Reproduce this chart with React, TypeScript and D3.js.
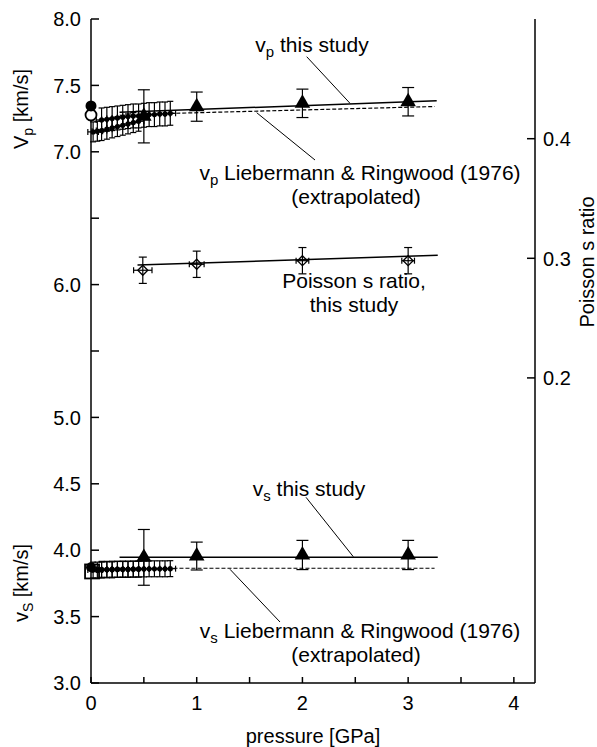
import React from "react";
import * as d3 from "d3";

// ---------- data ----------
const xTicks = [0, 0.5, 1, 1.5, 2, 2.5, 3, 3.5, 4];
const xTickLabels = ["0", "1", "2", "3", "4"];
const yTicks = [3, 3.5, 4, 4.5, 5, 5.5, 6, 6.5, 7, 7.5, 8];
const yTickLabels = ["3.0", "3.5", "4.0", "4.5", "5.0", "", "6.0", "", "7.0", "7.5", "8.0"];
const rTicks = [0.2, 0.3, 0.4];
const rTickLabels = ["0.2", "0.3", "0.4"];

// this study (triangles)
const studyP = [0.5, 1, 2, 3];
const vpStudy = [7.267, 7.34, 7.365, 7.377];
const vpStudyErr = [0.2, 0.11, 0.107, 0.107];
const vsStudy = [3.946, 3.956, 3.964, 3.964];
const vsStudyErr = [0.21, 0.105, 0.11, 0.11];

// Poisson's ratio
const poissonP = [0.49, 1.0, 2.0, 3.0];
const poissonV = [0.29, 0.295, 0.298, 0.298];
const poissonErr = [0.011, 0.011, 0.011, 0.011];
const poissonPErr = [0.087, 0.07, 0.06, 0.06];

// fit lines
const vpFitP = [0.27, 3.27];
const vpFitV = [7.298, 7.384];
const vpLRP = [0.75, 3.25];
const vpLRV = [7.289, 7.341];
const vsFitP = [0.27, 3.28];
const vsFitV = [3.946, 3.946];
const vsLRP = [0.78, 3.25];
const vsLRV = [3.864, 3.864];
const poissonFitP = [0.44, 3.28];
const poissonFitV = [0.2943, 0.3025];

// low-pressure literature data
const vpLow1P = [0.02, 0.06, 0.1, 0.15, 0.2, 0.25, 0.3, 0.35, 0.4, 0.45];
const vpLow1V = [7.15, 7.155, 7.16, 7.17, 7.18, 7.19, 7.2, 7.21, 7.22, 7.23];
const vpLow2P = [0.1, 0.15, 0.2, 0.25, 0.3, 0.35, 0.4, 0.45, 0.5, 0.55, 0.6, 0.65, 0.7, 0.75];
const vpLow2V = [7.24, 7.245, 7.25, 7.255, 7.26, 7.265, 7.27, 7.27, 7.275, 7.28, 7.28, 7.285, 7.285, 7.29];
const vsLow1P = [0.02, 0.06, 0.1, 0.15, 0.2, 0.25, 0.3, 0.35, 0.4, 0.45];
const vsLow1V = [3.85, 3.85, 3.85, 3.852, 3.852, 3.855, 3.855, 3.855, 3.857, 3.857];
const vsLow2P = [0.1, 0.15, 0.2, 0.25, 0.3, 0.35, 0.4, 0.45, 0.5, 0.55, 0.6, 0.65, 0.7, 0.75];
const vsLow2V = [3.856, 3.856, 3.857, 3.857, 3.858, 3.858, 3.858, 3.859, 3.859, 3.86, 3.86, 3.86, 3.86, 3.861];
const vpFilledCircle = { p: 0.0, v: 7.345 };
const vpOpenCircle = { p: 0.0, v: 7.277 };
const vsFilledCircle = { p: 0.0, v: 3.872 };
const vsOpenSquare = { p: 0.01, v: 3.84 };

// ---------- layout ----------
const W = 597;
const H = 747;
const x = d3.scaleLinear().domain([0, 4.2]).range([91, 535]);
const y = d3.scaleLinear().domain([3, 8]).range([683, 19]);
const yR = d3.scaleLinear().domain([0.3, 0.4]).range([258.3, 138.7]);

const FONT = "'Liberation Sans', Arial, Helvetica, sans-serif";
const line = d3.line<[number, number]>();

function ErrV({ px, py0, py1, cap }: { px: number; py0: number; py1: number; cap: number }) {
  return (
    <g stroke="#000" strokeWidth={1.2}>
      <line x1={px} x2={px} y1={py0} y2={py1} />
      <line x1={px - cap} x2={px + cap} y1={py0} y2={py0} />
      <line x1={px - cap} x2={px + cap} y1={py1} y2={py1} />
    </g>
  );
}
function ErrH({ py, px0, px1, cap }: { py: number; px0: number; px1: number; cap: number }) {
  return (
    <g stroke="#000" strokeWidth={1.2}>
      <line x1={px0} x2={px1} y1={py} y2={py} />
      <line x1={px0} x2={px0} y1={py - cap} y2={py + cap} />
      <line x1={px1} x2={px1} y1={py - cap} y2={py + cap} />
    </g>
  );
}

function LowSeries({ ps, vs, err, perr }: { ps: number[]; vs: number[]; err: number; perr: number }) {
  return (
    <g>
      {ps.map((p, i) => (
        <g key={i}>
          <ErrV px={x(p)} py0={y(vs[i] + err)} py1={y(vs[i] - err)} cap={3} />
          <ErrH py={y(vs[i])} px0={x(p - perr)} px1={x(p + perr)} cap={3} />
          <circle cx={x(p)} cy={y(vs[i])} r={2.6} fill="#000" />
        </g>
      ))}
    </g>
  );
}

const tri = d3.symbol().type(d3.symbolTriangle).size(105)();

export default function App() {
  const vpFit = line(vpFitP.map((p, i) => [x(p), y(vpFitV[i])]));
  const vpLR = line(vpLRP.map((p, i) => [x(p), y(vpLRV[i])]));
  const vsFit = line(vsFitP.map((p, i) => [x(p), y(vsFitV[i])]));
  const vsLR = line(vsLRP.map((p, i) => [x(p), y(vsLRV[i])]));
  const pFit = line(poissonFitP.map((p, i) => [x(p), yR(poissonFitV[i])]));
  const x0 = x.range()[0];
  const x1 = x.range()[1];
  const yb = y.range()[0];
  const yt = y.range()[1];
  return (
    <svg width={W} height={H} style={{ position: "absolute", left: 0, top: 0 }} fontFamily={FONT}>
      <rect width={W} height={H} fill="#fff" />
      {/* frame */}
      <g stroke="#000" strokeWidth={1.5} fill="none">
        <line x1={x0} x2={x0} y1={yt} y2={yb} />
        <line x1={x1} x2={x1} y1={yt} y2={yb} />
        <line x1={x0} x2={x1} y1={yb} y2={yb} />
      </g>
      {/* left ticks */}
      {yTicks.map((t, i) => (
        <g key={"yl" + i}>
          <line x1={x0} x2={x0 + 8} y1={y(t)} y2={y(t)} stroke="#000" strokeWidth={1.5} />
          <text x={x0 - 10} y={y(t)} dy="0.36em" textAnchor="end" fontSize={20}>
            {yTickLabels[i]}
          </text>
        </g>
      ))}
      {/* right ticks */}
      {rTicks.map((t, i) => (
        <g key={"yr" + i}>
          <line x1={x1 - 8} x2={x1} y1={yR(t)} y2={yR(t)} stroke="#000" strokeWidth={1.5} />
          <text x={x1 + 8} y={yR(t)} dy="0.36em" textAnchor="start" fontSize={20}>
            {rTickLabels[i]}
          </text>
        </g>
      ))}
      {/* x ticks */}
      {xTicks.map((t, i) => (
        <line key={"xt" + i} x1={x(t)} x2={x(t)} y1={yb} y2={yb - 6} stroke="#000" strokeWidth={1.5} />
      ))}
      {xTickLabels.map((l, i) => (
        <text key={"xl" + i} x={x(+l)} y={yb + 27} textAnchor="middle" fontSize={20}>
          {l}
        </text>
      ))}
      <text x={(x0 + x1) / 2} y={743} textAnchor="middle" fontSize={20}>
        pressure [GPa]
      </text>
      {/* axis titles */}
      <text transform={`translate(28,109) rotate(-90)`} textAnchor="middle" fontSize={20}>
        V<tspan dy={5} fontSize={14}>p</tspan>
        <tspan dy={-5}> [km/s]</tspan>
      </text>
      <text transform={`translate(28,583) rotate(-90)`} textAnchor="middle" fontSize={20}>
        v<tspan dy={5} fontSize={14}>S</tspan>
        <tspan dy={-5}> [km/s]</tspan>
      </text>
      <text transform={`translate(594,262) rotate(-90)`} textAnchor="middle" fontSize={20}>
        Poisson s ratio
      </text>

      {/* fit lines */}
      <g fill="none" stroke="#000">
        <path d={vpFit || ""} strokeWidth={1.5} />
        <path d={vpLR || ""} strokeWidth={1.2} strokeDasharray="4,2" />
        <path d={vsFit || ""} strokeWidth={1.5} />
        <path d={vsLR || ""} strokeWidth={1.2} strokeDasharray="4,2" />
        <path d={pFit || ""} strokeWidth={1.5} />
      </g>

      {/* low pressure data */}
      <LowSeries ps={vpLow1P} vs={vpLow1V} err={0.075} perr={0.05} />
      <LowSeries ps={vpLow2P} vs={vpLow2V} err={0.09} perr={0.05} />
      <LowSeries ps={vsLow1P} vs={vsLow1V} err={0.06} perr={0.05} />
      <LowSeries ps={vsLow2P} vs={vsLow2V} err={0.06} perr={0.05} />
      <circle cx={x(vpOpenCircle.p)} cy={y(vpOpenCircle.v)} r={5.5} fill="#fff" stroke="#000" strokeWidth={1.8} />
      <circle cx={x(vpFilledCircle.p)} cy={y(vpFilledCircle.v)} r={5.5} fill="#000" />
      <rect
        x={x(vsOpenSquare.p) - 7}
        y={y(vsOpenSquare.v) - 7}
        width={14}
        height={14}
        fill="none"
        stroke="#000"
        strokeWidth={1.8}
      />
      <circle cx={x(vsFilledCircle.p)} cy={y(vsFilledCircle.v)} r={5} fill="#000" />

      {/* this study: triangles */}
      {studyP.map((p, i) => (
        <g key={"vp" + i}>
          <ErrV px={x(p)} py0={y(vpStudy[i] + vpStudyErr[i])} py1={y(vpStudy[i] - vpStudyErr[i])} cap={6} />
          <path d={tri || ""} transform={`translate(${x(p)},${y(vpStudy[i])})`} fill="#000" />
        </g>
      ))}
      {studyP.map((p, i) => (
        <g key={"vs" + i}>
          <ErrV px={x(p)} py0={y(vsStudy[i] + vsStudyErr[i])} py1={y(vsStudy[i] - vsStudyErr[i])} cap={6} />
          <path d={tri || ""} transform={`translate(${x(p)},${y(vsStudy[i])})`} fill="#000" />
        </g>
      ))}
      {/* Poisson */}
      {poissonP.map((p, i) => (
        <g key={"pr" + i}>
          <ErrV px={x(p)} py0={yR(poissonV[i] + poissonErr[i])} py1={yR(poissonV[i] - poissonErr[i])} cap={4} />
          <ErrH py={yR(poissonV[i])} px0={x(p - poissonPErr[i])} px1={x(p + poissonPErr[i])} cap={3} />
          <path
            d={`M${x(p)},${yR(poissonV[i]) - 5}L${x(p) + 5},${yR(poissonV[i])}L${x(p)},${yR(poissonV[i]) + 5}L${x(p) - 5},${yR(poissonV[i])}Z`}
            fill="none"
            stroke="#000"
            strokeWidth={1.3}
          />
        </g>
      ))}

      {/* annotations */}
      <g stroke="#000" strokeWidth={1}>
        <line x1={306.7} y1={56.7} x2={350} y2={103.3} />
        <line x1={256.7} y1={112.7} x2={315} y2={160} />
        <line x1={306} y1={497.3} x2={353.3} y2={556.7} />
        <line x1={230} y1={569.3} x2={280} y2={622} />
      </g>
      <g fontSize={21} textAnchor="middle">
        <text x={312} y={52}>
          v<tspan dy={5} fontSize={15}>p</tspan>
          <tspan dy={-5}> this study</tspan>
        </text>
        <text x={360} y={180}>
          v<tspan dy={5} fontSize={15}>p</tspan>
          <tspan dy={-5}> Liebermann &amp; Ringwood (1976)</tspan>
        </text>
        <text x={356} y={204}>(extrapolated)</text>
        <text x={354} y={288}>Poisson s ratio,</text>
        <text x={354} y={312}>this study</text>
        <text x={309} y={496}>
          v<tspan dy={5} fontSize={15}>s</tspan>
          <tspan dy={-5}> this study</tspan>
        </text>
        <text x={360} y={638}>
          v<tspan dy={5} fontSize={15}>s</tspan>
          <tspan dy={-5}> Liebermann &amp; Ringwood (1976)</tspan>
        </text>
        <text x={356} y={662}>(extrapolated)</text>
      </g>
    </svg>
  );
}
